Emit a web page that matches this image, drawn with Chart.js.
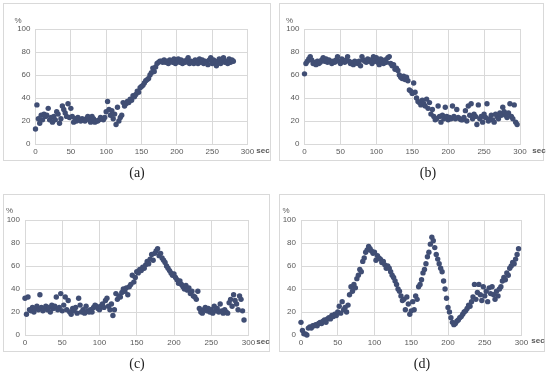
<!DOCTYPE html>
<html>
<head>
<meta charset="utf-8">
<script src="https://cdn.jsdelivr.net/npm/chart.js@4/dist/chart.umd.min.js"></script>
<style>
  html, body { margin: 0; padding: 0; background: #ffffff; }
  #wrap { position: relative; width: 550px; height: 374px; background: #ffffff; overflow: hidden; }
  .frame { position: absolute; box-sizing: border-box; border: 1px solid #d9d9d9; }
  canvas { position: absolute; }
  .cap { position: absolute; font-family: "Liberation Serif", "Times New Roman", serif; font-size: 14px; color: #222; transform: translate(-50%, -50%); white-space: nowrap; }
</style>
</head>
<body>
<div id="wrap">
  <div class="frame" style="left:3px;top:3px;width:268px;height:158px"></div>
  <div class="frame" style="left:279px;top:3px;width:265px;height:158px"></div>
  <div class="frame" style="left:3px;top:194px;width:267px;height:158px"></div>
  <div class="frame" style="left:279px;top:194px;width:266px;height:158px"></div>
  <canvas id="ca" width="275" height="187" style="left:0px;top:0px"></canvas>
  <canvas id="cb" width="275" height="187" style="left:275px;top:0px"></canvas>
  <canvas id="cc" width="275" height="187" style="left:0px;top:187px"></canvas>
  <canvas id="cd" width="275" height="187" style="left:275px;top:187px"></canvas>
  <div class="cap" style="left:137px;top:173px">(a)</div>
  <div class="cap" style="left:428px;top:173px">(b)</div>
  <div class="cap" style="left:137px;top:364px">(c)</div>
  <div class="cap" style="left:422px;top:364px">(d)</div>
</div>
<script>
// ---- DATA ----
const seconds = [0,2,4,6,8,10,12,14,16,18,20,22,24,26,28,30,32,34,36,38,40,42,44,46,48,50,52,54,56,58,
  60,62,64,66,68,70,72,74,76,78,80,82,84,86,88,90,92,94,96,98,100,102,104,106,108,110,112,114,116,118,
  120,122,124,126,128,130,132,134,136,138,140,142,144,146,148,150,152,154,156,158,160,162,164,166,168,170,172,174,176,178,
  180,182,184,186,188,190,192,194,196,198,200,202,204,206,208,210,212,214,216,218,220,222,224,226,228,230,232,234,236,238,
  240,242,244,246,248,250,252,254,256,258,260,262,264,266,268,270,272,274,276,278,280,282,284,286,288,290,292,294,296,298];

const xTickLabels = [0, 50, 100, 150, 200, 250, 300];
const yTickLabels = [0, 20, 40, 60, 80, 100];
const xUnit = "sec";
const yUnit = "%";

const panelA = [13,34,22,18,25,21,26,24,25,31,
  21,23,19,24,21,28,26,18,22,33,
  30,27,24,35,23,31,24,19,22,20,
  23,21,20,22,21,20,22,24,21,19,
  24,22,19,20,20,21,23,22,21,23,
  28,37,30,25,29,22,26,17,32,20,
  23,25,36,33,35,37,36,39,38,42,
  41,43,46,45,49,50,51,53,55,56,
  57,60,62,66,63,67,70,71,72,72,
  71,73,71,72,70,73,72,71,74,70,
  72,74,71,73,70,72,71,73,75,70,
  72,71,70,73,72,70,74,71,73,70,
  72,71,69,73,75,70,73,71,68,72,
  74,70,73,75,71,72,70,74,71,73,
  72];

const panelB = [61,70,72,74,76,73,70,71,69,72,
  70,71,73,75,72,74,71,73,72,70,
  72,71,73,76,72,70,74,72,71,73,
  76,72,70,71,69,72,71,70,72,68,
  76,73,72,71,74,72,73,70,76,72,
  75,71,69,74,72,70,73,71,75,76,
  70,68,69,65,66,64,60,58,57,59,
  56,58,55,47,46,44,53,45,40,37,
  36,34,38,35,33,39,31,36,26,30,
  24,21,22,33,24,19,25,22,32,24,
  21,23,22,33,24,22,30,23,22,21,
  21,23,29,20,33,25,35,22,26,24,
  17,34,22,24,19,26,23,35,20,22,
  25,21,19,26,24,22,27,25,32,28,
  25,23,27,35,24,22,34,19,17];

const panelC = [32,18,33,22,21,24,20,23,25,22,
  35,24,21,23,25,22,24,20,26,23,
  25,33,22,24,36,21,26,33,22,30,
  20,18,23,21,24,19,32,26,20,22,
  19,25,21,20,22,20,24,26,25,23,
  22,25,27,24,30,32,25,22,27,17,
  22,36,31,34,33,37,40,38,41,35,
  42,44,52,46,50,55,54,57,56,59,
  58,61,64,62,66,70,65,71,73,75,
  69,71,67,65,63,60,58,56,54,52,
  53,50,48,45,47,44,42,40,43,39,
  41,36,38,34,33,31,38,23,20,19,
  22,24,21,23,20,22,19,25,21,23,
  20,27,21,19,22,20,19,28,31,25,
  35,30,27,22,34,31,21,13];

const panelD = [11,4,1,1,0,6,7,6,8,8,
  9,8,10,11,10,12,13,11,14,15,
  14,17,16,18,17,20,25,19,29,22,
  24,20,26,35,42,38,44,41,49,52,
  57,55,64,67,72,74,77,75,73,71,
  72,65,69,67,66,63,64,61,58,60,
  58,55,52,50,47,44,40,38,34,30,
  31,22,33,27,18,21,29,22,34,31,
  42,44,48,54,57,62,68,72,79,85,
  82,76,70,66,62,58,55,47,40,32,
  24,20,15,11,9,10,12,13,15,16,
  18,20,21,23,26,25,29,33,44,31,
  37,44,35,30,42,34,38,29,41,36,
  42,35,31,38,34,40,42,47,50,48,
  54,52,58,60,63,62,66,70,75];

// ---- LAYOUT (positions only) ----
const layouts = [
  { canvas: "ca", values: panelA, L: 35.5, R: 247.5, T: 29, B: 144, pctPos: [18, 20.5], secPos: [263, 151] },
  { canvas: "cb", values: panelB, L: 29.5, R: 245,   T: 29, B: 144, pctPos: [14.5, 21], secPos: [264, 151] },
  { canvas: "cc", values: panelC, L: 25,   R: 248.5, T: 33, B: 148, pctPos: [9.5, 24],  secPos: [263, 155] },
  { canvas: "cd", values: panelD, L: 26,   R: 246.5, T: 33, B: 148, pctPos: [11, 24],   secPos: [263, 154] }
];

Chart.defaults.font.family = '"Liberation Sans", Arial, sans-serif';
Chart.defaults.font.size = 8;
Chart.defaults.color = '#595959';

const GRID = '#d9d9d9';
const POINT = '#404e74';

layouts.forEach(function (p) {
  const pts = p.values.map(function (v, i) { return { x: seconds[i], y: v }; });
  const unitPlugin = {
    id: 'units',
    afterDraw: function (chart) {
      const ctx = chart.ctx;
      ctx.save();
      ctx.fillStyle = '#595959';
      ctx.textAlign = 'center';
      ctx.textBaseline = 'middle';
      ctx.font = '8px "Liberation Sans", Arial, sans-serif';
      ctx.fillText(yUnit, p.pctPos[0], p.pctPos[1]);
      ctx.font = 'bold 8px "Liberation Sans", Arial, sans-serif';
      ctx.fillText(xUnit, p.secPos[0], p.secPos[1]);
      ctx.restore();
    }
  };
  new Chart(document.getElementById(p.canvas), {
    type: 'scatter',
    data: {
      datasets: [{
        data: pts,
        backgroundColor: POINT,
        borderColor: POINT,
        borderWidth: 0,
        pointRadius: 2.7,
        pointHoverRadius: 2.7,
        clip: false
      }]
    },
    options: {
      responsive: false,
      animation: false,
      devicePixelRatio: 1,
      layout: { padding: { left: 0, top: p.T, right: 275 - p.R, bottom: 0 } },
      plugins: { legend: { display: false }, tooltip: { enabled: false } },
      scales: {
        x: {
          type: 'linear',
          min: xTickLabels[0],
          max: xTickLabels[xTickLabels.length - 1],
          afterBuildTicks: function (s) { s.ticks = xTickLabels.map(function (v) { return { value: v }; }); },
          afterFit: function (s) { s.height = 187 - p.B; },
          grid: { color: GRID, lineWidth: 1, drawTicks: false },
          border: { color: GRID, width: 1 },
          ticks: { padding: 3, maxRotation: 0, autoSkip: false, color: '#595959' }
        },
        y: {
          type: 'linear',
          min: yTickLabels[0],
          max: yTickLabels[yTickLabels.length - 1],
          afterBuildTicks: function (s) { s.ticks = yTickLabels.map(function (v) { return { value: v }; }); },
          afterFit: function (s) { s.width = p.L; },
          grid: { color: GRID, lineWidth: 1, drawTicks: false },
          border: { color: GRID, width: 1 },
          ticks: { padding: 5, color: '#595959' }
        }
      }
    },
    plugins: [unitPlugin]
  });
});
</script>
</body>
</html>
